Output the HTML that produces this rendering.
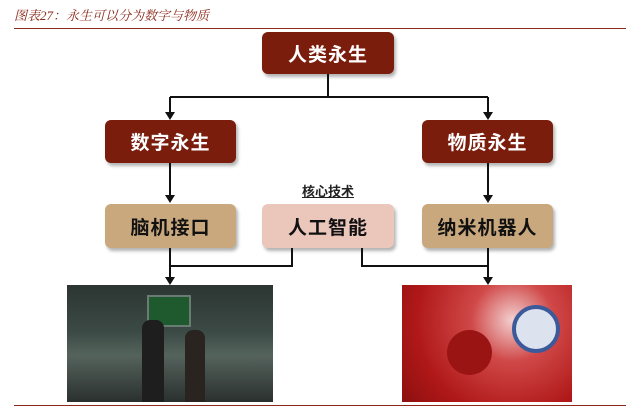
<!DOCTYPE html>
<html><head><meta charset="utf-8"><style>
body{margin:0;width:640px;height:408px;background:#fff;position:relative;overflow:hidden;font-family:"Liberation Sans","Noto Sans CJK SC",sans-serif}
.b{position:absolute;border-radius:6px;display:flex;align-items:center;justify-content:center;font-size:19px;font-weight:bold;box-shadow:2px 3px 3px rgba(0,0,0,.3);letter-spacing:1px}
.d{background:#7a1d0c;color:#fff}
.t{background:#c9a87e;color:#111}
.p{background:#eac6bb;color:#111}
.l{position:absolute;background:#111}
</style></head><body>
<div style="position:absolute;left:14px;top:5px;font-size:13px;font-style:italic;color:#8b2a1a;font-family:'Liberation Serif','Noto Serif CJK SC',serif">图表27：永生可以分为数字与物质</div>
<div style="position:absolute;left:14px;top:28px;width:612px;height:1px;background:#8b2a1a"></div>
<div class="b d" style="left:262px;top:32px;width:132px;height:42px">人类永生</div>
<div class="b d" style="left:105px;top:120px;width:131px;height:43px">数字永生</div>
<div class="b d" style="left:422px;top:120px;width:131px;height:43px">物质永生</div>
<div class="b t" style="left:105px;top:204px;width:131px;height:44px">脑机接口</div>
<div class="b p" style="left:262px;top:204px;width:132px;height:44px">人工智能</div>
<div class="b t" style="left:422px;top:204px;width:131px;height:44px">纳米机器人</div>
<div style="position:absolute;left:290px;top:181px;width:76px;text-align:center;font-size:13px;font-weight:bold;text-decoration:underline;color:#222">核心技术</div>
<svg width="640" height="408" style="position:absolute;left:0;top:0" fill="none" stroke="#111" stroke-width="2">
<defs><marker id="a" markerWidth="8" markerHeight="8" refX="4" refY="7" orient="auto" markerUnits="userSpaceOnUse"><path d="M0,0 L8,0 L4,8Z" fill="#111" stroke="none" transform="rotate(-90 4 4)"/></marker></defs>
<path d="M328 74 V97 M170 97 H488"/>
<path d="M170 97 V112 M488 97 V112 M170 163 V196 M488 163 V196 M170 248 V277 M488 248 V277"/>
<path d="M170 266 H292 V248 M362 248 V266 H488"/>
<path d="M165 112 L175 112 L170 120Z M483 112 L493 112 L488 120Z M165 195 L175 195 L170 203Z M483 195 L493 195 L488 203Z M165 277 L175 277 L170 285Z M483 277 L493 277 L488 285Z" fill="#111" stroke="none"/>
</svg>
<div style="position:absolute;left:67px;top:285px;width:206px;height:117px;background:linear-gradient(180deg,#2c3532 0%,#3c4a45 40%,#55635d 60%,#2a302e 100%)">
<div style="position:absolute;left:80px;top:10px;width:40px;height:28px;background:#1e5a2e;border:2px solid #6a7a75"></div>
<div style="position:absolute;left:75px;top:35px;width:22px;height:82px;background:#1e1e1e;border-radius:8px 8px 0 0"></div>
<div style="position:absolute;left:118px;top:45px;width:20px;height:72px;background:#2a2420;border-radius:8px 8px 0 0"></div>
</div>
<div style="position:absolute;left:402px;top:285px;width:170px;height:117px;background:radial-gradient(circle at 65% 30%,#f3d0d0 0%,#d04848 30%,#b01818 70%,#8c0f0f 100%)">
<div style="position:absolute;left:45px;top:45px;width:45px;height:45px;border-radius:50%;background:#9a1414"></div>
<div style="position:absolute;left:110px;top:20px;width:40px;height:40px;border-radius:50%;background:#dde3ee;border:4px solid #3c5a9a"></div>
</div>
<div style="position:absolute;left:14px;top:405px;width:612px;height:1px;background:#8b2a1a"></div>
</body></html>
